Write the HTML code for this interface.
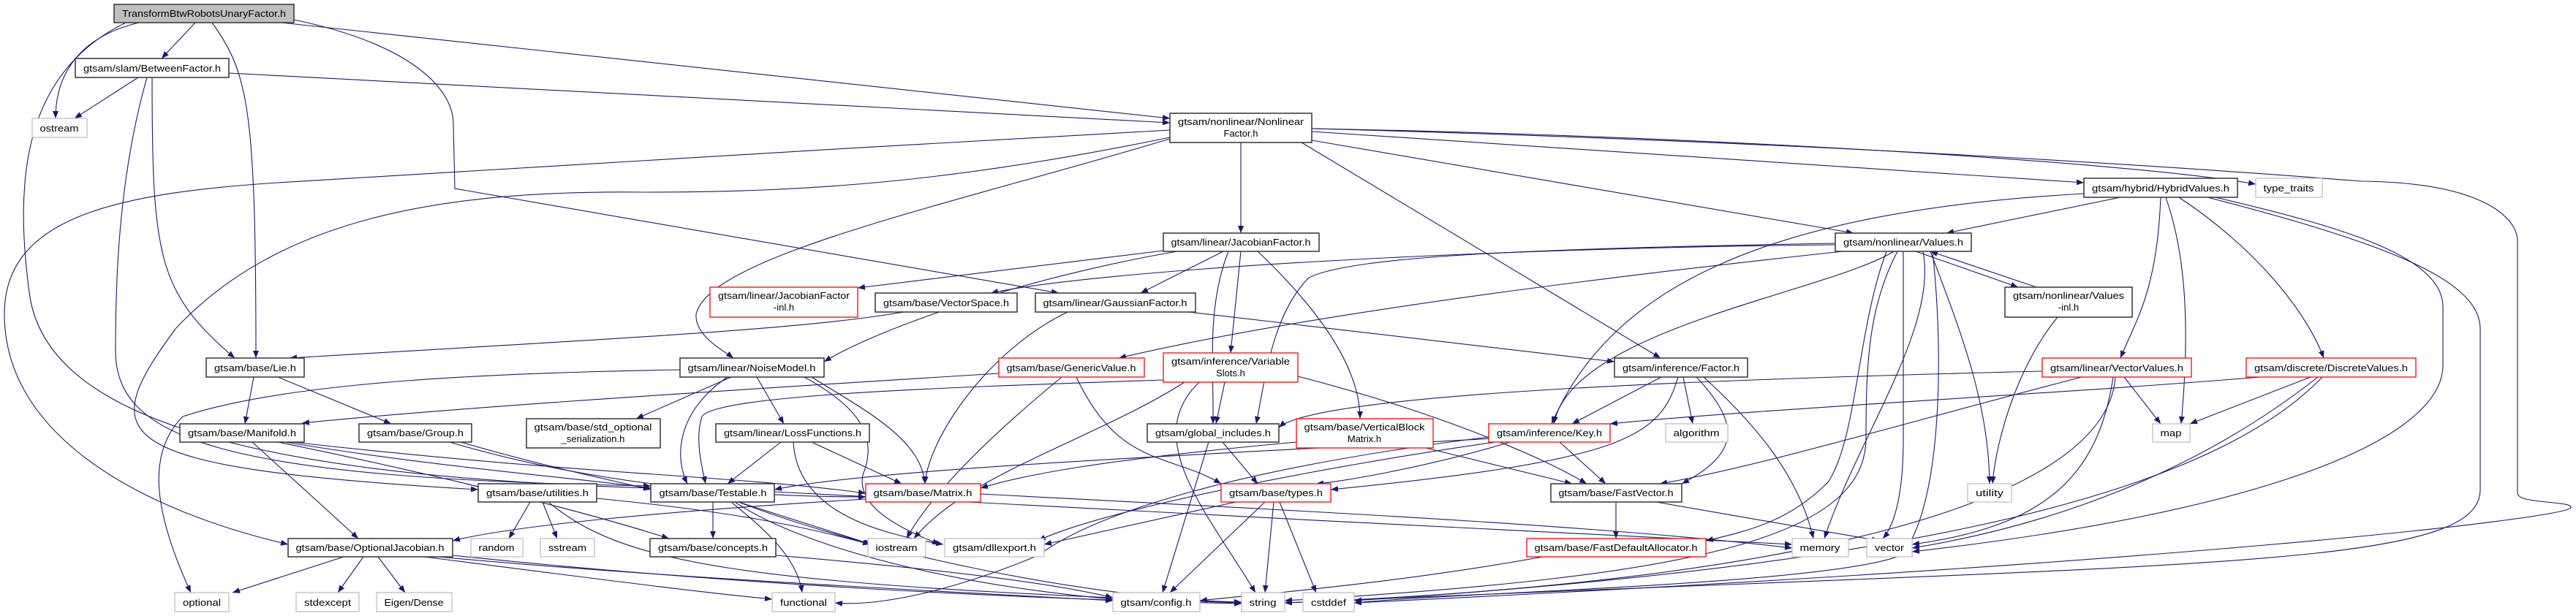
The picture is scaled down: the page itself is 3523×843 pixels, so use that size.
<!DOCTYPE html>
<html><head><meta charset="utf-8"><style>
html,body{margin:0;padding:0;background:#fff;}
svg{display:block;}
text{font-family:"Liberation Sans","DejaVu Sans",sans-serif;font-size:13px;fill:#000;}
.e{fill:none;stroke:#191970;stroke-width:1.1;marker-end:url(#a);}
.n{fill:#fff;stroke:#333;stroke-width:1.5;}
.r{fill:#fff;stroke:#ff0000;stroke-width:1.3;}
.g{fill:#fff;stroke:#bfbfbf;stroke-width:1.3;}
</style></head><body>
<svg width="3523" height="843" viewBox="0 0 3523 843" xmlns="http://www.w3.org/2000/svg">
<defs><marker id="a" markerWidth="11" markerHeight="8" refX="10" refY="4" orient="auto" markerUnits="userSpaceOnUse"><path d="M0,0 L10,4 L0,8 z" fill="#191970"/></marker></defs>
<g>
<path class="e" d="M267,31 L221,80"/>
<path class="e" d="M190,31 C110,50 76,100 76,162"/>
<path class="e" d="M172,31 C30,100 20,250 40,400 C60,560 300,650 890,668"/>
<path class="e" d="M290,31 C340,100 350,150 350,490"/>
<path class="e" d="M385,31 L1600,162"/>
<path class="e" d="M402,27 C560,60 620,120 620,170 L622,258 L1448,401"/>
<path class="e" d="M189,106 L102,162"/>
<path class="e" d="M313,100 L1600,168"/>
<path class="e" d="M208,106 C208,350 215,400 321,490"/>
<path class="e" d="M201,106 C160,250 158,400 158,480 C158,600 300,655 890,665"/>
<path class="e" d="M1697,195 L1697,319"/>
<path class="e" d="M1794,192 L2535,319"/>
<path class="e" d="M1794,180 L2850,250"/>
<path class="e" d="M1794,176 C2300,185 2900,220 3085,252"/>
<path class="e" d="M1794,176 C2500,195 3000,230 3230,248 C3400,250 3443,300 3443,330 L3443,675 C3443,690 3520,685 3516,695 C3500,710 3000,770 1852,825"/>
<path class="e" d="M1780,195 L2271,490"/>
<path class="e" d="M1600,190 C1300,280 970,350 952,430 C950,460 990,480 1003,490"/>
<path class="e" d="M1600,178 C1200,200 700,230 380,250 C150,265 6,300 6,430 C6,600 200,700 394,745"/>
<path class="e" d="M1600,188 C1300,250 1100,263 880,263 C600,260 380,300 240,450 C130,600 140,640 654,670"/>
<path class="e" d="M1591,343 L1173,394"/>
<path class="e" d="M1673,344 L1560,401"/>
<path class="e" d="M1610,344 C1400,380 1200,450 1127,495"/>
<path class="e" d="M1697,344 L1683,483"/>
<path class="e" d="M1680,344 C1650,420 1660,500 1659,580"/>
<path class="e" d="M1720,344 C1800,420 1860,500 1860,573"/>
<path class="e" d="M2510,335 C2000,340 1500,370 1355,401"/>
<path class="e" d="M2520,344 C2000,400 1700,450 1530,490"/>
<path class="e" d="M2590,344 C2500,400 2150,450 2125,580"/>
<path class="e" d="M2620,344 L2760,393"/>
<path class="e" d="M2785,393 L2640,344"/>
<path class="e" d="M2640,344 C2680,450 2720,550 2721,662"/>
<path class="e" d="M2630,344 C2650,450 2540,600 2495,737"/>
<path class="e" d="M2595,344 C2555,420 2552,500 2552,600 C2552,740 2300,790 1757,822"/>
<path class="e" d="M2603,344 L2603,600 C2603,680 2590,720 2575,737"/>
<path class="e" d="M2643,344 C2660,500 2653,700 2600,760 C2500,800 2000,810 1852,825"/>
<path class="e" d="M2580,344 C2540,450 2540,600 2500,660 C2450,710 2400,725 2333,740"/>
<path class="e" d="M2510,333 C2100,340 1850,350 1790,380 C1740,430 1730,520 1718,580"/>
<path class="e" d="M2850,265 C2400,290 2200,400 2122,580"/>
<path class="e" d="M2900,270 L2662,319"/>
<path class="e" d="M2955,270 C2950,400 2920,440 2900,490"/>
<path class="e" d="M2980,270 C3100,350 3160,440 3178,490"/>
<path class="e" d="M2962,270 C2990,350 2995,450 2983,580"/>
<path class="e" d="M3030,270 C3200,310 3341,350 3341,420 L3341,500 C3341,600 3100,700 2615,755"/>
<path class="e" d="M3019,270 C3250,330 3392,380 3392,450 L3392,670 C3392,780 3000,770 1757,825"/>
<path class="e" d="M2814,434 C2760,500 2730,600 2725,662"/>
<path class="e" d="M2905,516 L2955,580"/>
<path class="e" d="M2847,516 C2600,580 2400,640 2270,662"/>
<path class="e" d="M2793,508 C2300,520 1800,540 1749,585"/>
<path class="e" d="M2890,516 C2870,650 2800,720 2615,745"/>
<path class="e" d="M2893,516 C2880,700 2400,800 1757,825"/>
<path class="e" d="M3091,516 C2800,540 2400,560 2202,580"/>
<path class="e" d="M3160,516 L2995,580"/>
<path class="e" d="M3170,516 C3000,650 2800,720 2615,750"/>
<path class="e" d="M3176,516 C3000,700 2500,780 1852,822"/>
<path class="e" d="M2272,516 L2150,580"/>
<path class="e" d="M2302,516 L2315,580"/>
<path class="e" d="M2320,516 C2380,580 2380,620 2300,662"/>
<path class="e" d="M2330,516 C2400,580 2460,650 2480,737"/>
<path class="e" d="M2295,516 C2270,600 2220,630 1820,670"/>
<path class="e" d="M2065,605 C1950,640 1830,660 1800,662"/>
<path class="e" d="M2133,605 L2196,662"/>
<path class="e" d="M2040,600 C1700,620 1200,640 1059,670"/>
<path class="e" d="M2045,605 C1800,640 1500,700 1420,740"/>
<path class="e" d="M2036,598 C1700,640 1500,700 1420,760 C1300,810 1200,830 1142,825"/>
<path class="e" d="M1626,427 L2208,495"/>
<path class="e" d="M1460,427 C1350,480 1270,600 1265,662"/>
<path class="e" d="M1236,427 C1100,450 900,460 396,490"/>
<path class="e" d="M1366,511 C900,540 600,560 413,579"/>
<path class="e" d="M1452,516 C1350,600 1270,680 1240,737"/>
<path class="e" d="M1472,516 C1530,640 1600,620 1670,662"/>
<path class="e" d="M1675,523 L1663,580"/>
<path class="e" d="M1620,523 C1500,600 1320,650 1250,737"/>
<path class="e" d="M1640,523 C1560,600 1650,700 1717,811"/>
<path class="e" d="M1591,520 C1300,530 980,540 960,570 C950,600 960,640 965,662"/>
<path class="e" d="M1775,515 C1950,560 2100,620 2170,662"/>
<path class="e" d="M1000,516 L870,573"/>
<path class="e" d="M1035,516 L1072,580"/>
<path class="e" d="M995,516 C930,560 920,620 940,662"/>
<path class="e" d="M1110,516 C1180,560 1260,600 1265,662"/>
<path class="e" d="M1100,516 C1180,560 1200,600 1180,650 C1170,700 1250,730 1285,745"/>
<path class="e" d="M930,506 C700,510 400,520 250,570 C200,620 210,700 261,811"/>
<path class="e" d="M1068,605 L995,662"/>
<path class="e" d="M1110,605 L1233,662"/>
<path class="e" d="M1085,605 C1090,700 1200,730 1290,745"/>
<path class="e" d="M1653,605 L1590,811"/>
<path class="e" d="M1672,605 L1720,662"/>
<path class="e" d="M1950,613 L2150,662"/>
<path class="e" d="M1773,605 C1500,630 1400,650 1341,668"/>
<path class="e" d="M390,605 C600,640 800,655 890,668"/>
<path class="e" d="M400,605 C800,650 1000,650 1184,675"/>
<path class="e" d="M345,605 L490,737"/>
<path class="e" d="M380,605 C600,650 800,700 915,737"/>
<path class="e" d="M347,516 L335,580"/>
<path class="e" d="M380,516 L535,580"/>
<path class="e" d="M630,605 C750,640 850,660 890,670"/>
<path class="e" d="M615,605 C800,660 1000,680 1184,680"/>
<path class="e" d="M725,687 L696,737"/>
<path class="e" d="M742,687 L762,737"/>
<path class="e" d="M816,682 C1000,700 1100,720 1190,745"/>
<path class="e" d="M750,687 C850,770 1000,800 1698,825"/>
<path class="e" d="M470,762 L318,811"/>
<path class="e" d="M497,762 L462,811"/>
<path class="e" d="M517,762 L554,811"/>
<path class="e" d="M600,762 C900,790 1300,810 1522,822"/>
<path class="e" d="M619,760 C1000,800 1400,820 1698,826"/>
<path class="e" d="M580,762 C800,790 950,810 1056,820"/>
<path class="e" d="M975,687 L975,737"/>
<path class="e" d="M1010,687 L1192,745"/>
<path class="e" d="M1000,687 C1040,720 1090,760 1097,811"/>
<path class="e" d="M1005,687 C1100,750 1300,800 1522,820"/>
<path class="e" d="M1010,687 C1200,760 1500,820 1698,824"/>
<path class="e" d="M1059,673 C1500,700 2000,720 2451,745"/>
<path class="e" d="M1184,683 C900,700 700,720 619,740"/>
<path class="e" d="M1341,676 C1800,700 2200,720 2451,750"/>
<path class="e" d="M1061,760 C1300,780 1450,800 1522,818"/>
<path class="e" d="M1690,687 L1428,745"/>
<path class="e" d="M1730,687 L1600,811"/>
<path class="e" d="M1742,687 L1730,811"/>
<path class="e" d="M1750,687 L1800,811"/>
<path class="e" d="M2210,687 L2210,737"/>
<path class="e" d="M2265,687 L2570,740"/>
<path class="e" d="M2110,762 C1900,800 1700,815 1641,822"/>
</g>
<g>
<rect x="156" y="6" width="246" height="25" fill="#bfbfbf" stroke="#333" stroke-width="1.5"/><text x="279" y="23" text-anchor="middle" textLength="224" lengthAdjust="spacingAndGlyphs">TransformBtwRobotsUnaryFactor.h</text>
<rect class="n" x="103" y="80" width="210" height="26"/><text x="208" y="98" text-anchor="middle" textLength="188" lengthAdjust="spacingAndGlyphs">gtsam/slam/BetweenFactor.h</text>
<rect class="g" x="44" y="162" width="75" height="26"/><text x="81" y="180" text-anchor="middle" textLength="53" lengthAdjust="spacingAndGlyphs">ostream</text>
<rect class="n" x="1600" y="155" width="194" height="40"/><text x="1697" y="171" text-anchor="middle" textLength="172" lengthAdjust="spacingAndGlyphs">gtsam/nonlinear/Nonlinear</text><text x="1697" y="187" text-anchor="middle">Factor.h</text>
<rect class="g" x="3085" y="244" width="91" height="26"/><text x="3130" y="262" text-anchor="middle" textLength="69" lengthAdjust="spacingAndGlyphs">type_traits</text>
<rect class="n" x="2850" y="244" width="210" height="26"/><text x="2955" y="262" text-anchor="middle" textLength="188" lengthAdjust="spacingAndGlyphs">gtsam/hybrid/HybridValues.h</text>
<rect class="n" x="1591" y="319" width="213" height="25"/><text x="1697" y="336" text-anchor="middle" textLength="191" lengthAdjust="spacingAndGlyphs">gtsam/linear/JacobianFactor.h</text>
<rect class="n" x="2510" y="319" width="186" height="25"/><text x="2603" y="336" text-anchor="middle" textLength="164" lengthAdjust="spacingAndGlyphs">gtsam/nonlinear/Values.h</text>
<rect class="r" x="971" y="393" width="202" height="41"/><text x="1072" y="409" text-anchor="middle" textLength="180" lengthAdjust="spacingAndGlyphs">gtsam/linear/JacobianFactor</text><text x="1072" y="425" text-anchor="middle">-inl.h</text>
<rect class="n" x="1197" y="401" width="194" height="26"/><text x="1294" y="419" text-anchor="middle" textLength="172" lengthAdjust="spacingAndGlyphs">gtsam/base/VectorSpace.h</text>
<rect class="n" x="1416" y="401" width="219" height="26"/><text x="1525" y="419" text-anchor="middle" textLength="197" lengthAdjust="spacingAndGlyphs">gtsam/linear/GaussianFactor.h</text>
<rect class="n" x="2742" y="393" width="174" height="41"/><text x="2829" y="409" text-anchor="middle" textLength="152" lengthAdjust="spacingAndGlyphs">gtsam/nonlinear/Values</text><text x="2829" y="425" text-anchor="middle">-inl.h</text>
<rect class="n" x="282" y="490" width="134" height="26"/><text x="349" y="508" text-anchor="middle" textLength="112" lengthAdjust="spacingAndGlyphs">gtsam/base/Lie.h</text>
<rect class="n" x="930" y="490" width="197" height="26"/><text x="1028" y="508" text-anchor="middle" textLength="175" lengthAdjust="spacingAndGlyphs">gtsam/linear/NoiseModel.h</text>
<rect class="r" x="1366" y="490" width="199" height="26"/><text x="1465" y="508" text-anchor="middle" textLength="177" lengthAdjust="spacingAndGlyphs">gtsam/base/GenericValue.h</text>
<rect class="r" x="1591" y="483" width="184" height="40"/><text x="1683" y="499" text-anchor="middle" textLength="162" lengthAdjust="spacingAndGlyphs">gtsam/inference/Variable</text><text x="1683" y="515" text-anchor="middle">Slots.h</text>
<rect class="n" x="2208" y="490" width="182" height="26"/><text x="2299" y="508" text-anchor="middle" textLength="160" lengthAdjust="spacingAndGlyphs">gtsam/inference/Factor.h</text>
<rect class="r" x="2793" y="490" width="204" height="26"/><text x="2895" y="508" text-anchor="middle" textLength="182" lengthAdjust="spacingAndGlyphs">gtsam/linear/VectorValues.h</text>
<rect class="r" x="3072" y="490" width="232" height="26"/><text x="3188" y="508" text-anchor="middle" textLength="210" lengthAdjust="spacingAndGlyphs">gtsam/discrete/DiscreteValues.h</text>
<rect class="n" x="246" y="580" width="170" height="25"/><text x="331" y="597" text-anchor="middle" textLength="148" lengthAdjust="spacingAndGlyphs">gtsam/base/Manifold.h</text>
<rect class="n" x="491" y="580" width="154" height="25"/><text x="568" y="597" text-anchor="middle" textLength="132" lengthAdjust="spacingAndGlyphs">gtsam/base/Group.h</text>
<rect class="n" x="720" y="573" width="183" height="40"/><text x="811" y="589" text-anchor="middle" textLength="161" lengthAdjust="spacingAndGlyphs">gtsam/base/std_optional</text><text x="811" y="605" text-anchor="middle">_serialization.h</text>
<rect class="n" x="979" y="580" width="210" height="25"/><text x="1084" y="597" text-anchor="middle" textLength="188" lengthAdjust="spacingAndGlyphs">gtsam/linear/LossFunctions.h</text>
<rect class="n" x="1569" y="580" width="180" height="25"/><text x="1659" y="597" text-anchor="middle" textLength="158" lengthAdjust="spacingAndGlyphs">gtsam/global_includes.h</text>
<rect class="r" x="1773" y="573" width="187" height="40"/><text x="1866" y="589" text-anchor="middle" textLength="165" lengthAdjust="spacingAndGlyphs">gtsam/base/VerticalBlock</text><text x="1866" y="605" text-anchor="middle">Matrix.h</text>
<rect class="r" x="2036" y="580" width="166" height="25"/><text x="2119" y="597" text-anchor="middle" textLength="144" lengthAdjust="spacingAndGlyphs">gtsam/inference/Key.h</text>
<rect class="g" x="2278" y="580" width="85" height="25"/><text x="2320" y="597" text-anchor="middle" textLength="63" lengthAdjust="spacingAndGlyphs">algorithm</text>
<rect class="g" x="2944" y="580" width="51" height="25"/><text x="2969" y="597" text-anchor="middle" textLength="29" lengthAdjust="spacingAndGlyphs">map</text>
<rect class="n" x="654" y="662" width="162" height="25"/><text x="735" y="679" text-anchor="middle" textLength="140" lengthAdjust="spacingAndGlyphs">gtsam/base/utilities.h</text>
<rect class="n" x="890" y="662" width="169" height="25"/><text x="975" y="679" text-anchor="middle" textLength="147" lengthAdjust="spacingAndGlyphs">gtsam/base/Testable.h</text>
<rect class="r" x="1184" y="662" width="157" height="25"/><text x="1262" y="679" text-anchor="middle" textLength="135" lengthAdjust="spacingAndGlyphs">gtsam/base/Matrix.h</text>
<rect class="r" x="1670" y="662" width="150" height="25"/><text x="1745" y="679" text-anchor="middle" textLength="128" lengthAdjust="spacingAndGlyphs">gtsam/base/types.h</text>
<rect class="n" x="2121" y="662" width="179" height="25"/><text x="2210" y="679" text-anchor="middle" textLength="157" lengthAdjust="spacingAndGlyphs">gtsam/base/FastVector.h</text>
<rect class="g" x="2691" y="662" width="60" height="25"/><text x="2721" y="679" text-anchor="middle" textLength="38" lengthAdjust="spacingAndGlyphs">utility</text>
<rect class="n" x="394" y="737" width="225" height="25"/><text x="506" y="754" text-anchor="middle" textLength="203" lengthAdjust="spacingAndGlyphs">gtsam/base/OptionalJacobian.h</text>
<rect class="g" x="644" y="737" width="71" height="25"/><text x="679" y="754" text-anchor="middle" textLength="49" lengthAdjust="spacingAndGlyphs">random</text>
<rect class="g" x="739" y="737" width="74" height="25"/><text x="776" y="754" text-anchor="middle" textLength="52" lengthAdjust="spacingAndGlyphs">sstream</text>
<rect class="n" x="889" y="737" width="172" height="25"/><text x="975" y="754" text-anchor="middle" textLength="150" lengthAdjust="spacingAndGlyphs">gtsam/base/concepts.h</text>
<rect class="g" x="1187" y="737" width="79" height="25"/><text x="1226" y="754" text-anchor="middle" textLength="57" lengthAdjust="spacingAndGlyphs">iostream</text>
<rect class="g" x="1292" y="737" width="136" height="25"/><text x="1360" y="754" text-anchor="middle" textLength="114" lengthAdjust="spacingAndGlyphs">gtsam/dllexport.h</text>
<rect class="r" x="2088" y="737" width="245" height="25"/><text x="2210" y="754" text-anchor="middle" textLength="223" lengthAdjust="spacingAndGlyphs">gtsam/base/FastDefaultAllocator.h</text>
<rect class="g" x="2451" y="737" width="77" height="25"/><text x="2489" y="754" text-anchor="middle" textLength="55" lengthAdjust="spacingAndGlyphs">memory</text>
<rect class="g" x="2553" y="737" width="62" height="25"/><text x="2584" y="754" text-anchor="middle" textLength="40" lengthAdjust="spacingAndGlyphs">vector</text>
<rect class="g" x="239" y="811" width="74" height="26"/><text x="276" y="829" text-anchor="middle" textLength="52" lengthAdjust="spacingAndGlyphs">optional</text>
<rect class="g" x="405" y="811" width="86" height="26"/><text x="448" y="829" text-anchor="middle" textLength="64" lengthAdjust="spacingAndGlyphs">stdexcept</text>
<rect class="g" x="515" y="811" width="103" height="26"/><text x="566" y="829" text-anchor="middle" textLength="81" lengthAdjust="spacingAndGlyphs">Eigen/Dense</text>
<rect class="g" x="1056" y="811" width="86" height="26"/><text x="1099" y="829" text-anchor="middle" textLength="64" lengthAdjust="spacingAndGlyphs">functional</text>
<rect class="g" x="1522" y="811" width="119" height="26"/><text x="1581" y="829" text-anchor="middle" textLength="97" lengthAdjust="spacingAndGlyphs">gtsam/config.h</text>
<rect class="g" x="1698" y="811" width="59" height="26"/><text x="1727" y="829" text-anchor="middle" textLength="37" lengthAdjust="spacingAndGlyphs">string</text>
<rect class="g" x="1782" y="811" width="70" height="26"/><text x="1817" y="829" text-anchor="middle" textLength="48" lengthAdjust="spacingAndGlyphs">cstddef</text>
</g>
</svg>
</body></html>
